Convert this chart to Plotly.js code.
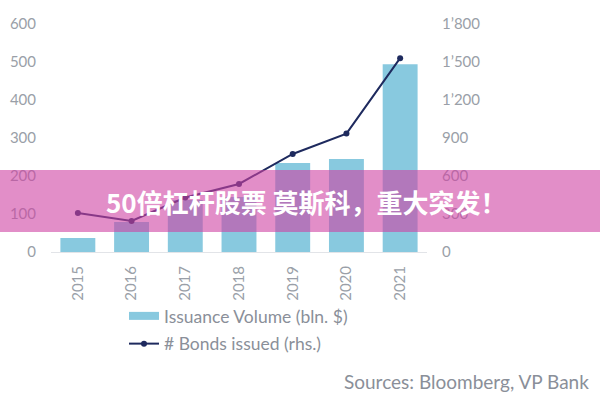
<!DOCTYPE html>
<html>
<head>
<meta charset="utf-8">
<script src="https://cdn.plot.ly/plotly-3.0.1.min.js"></script>
<style>html,body{margin:0;padding:0;background:#fff}#chart{width:600px;height:400px}</style>
</head>
<body>
<div id="chart"></div>
<script>
const years = ['2015','2016','2017','2018','2019','2020','2021'];
const issuanceVolume = [37, 79, 137, 145, 234, 245, 494];
const bondsIssued = [308, 245, 430, 537, 774, 935, 1530];
const leftTicks = [0, 100, 200, 300, 400, 500, 600];
const rightTickVals = [0, 300, 600, 900, 1200, 1500, 1800];
const rightTickText = ['0', '300', '600', '900', '1’200', '1’500', '1’800'];
const barName = 'Issuance Volume (bln. $)';
const lineName = '# Bonds issued (rhs.)';
const sourceText = 'Sources: Bloomberg, VP Bank';
const bannerText = '50倍杠杆股票 莫斯科，重大突发！';

const grey = '#9a9fa8';
const barColor = '#88c9df';
const lineColor = '#1e2a5e';
const L = 51, R = 427, T = 24, B = 252, W = 600, H = 400;
const pw = R - L, ph = B - T;
const px = v => (v - L) / pw;
const py = v => (B - v) / ph;

const traces = [
  {type:'bar', x: years, y: issuanceVolume, name: barName, marker:{color: barColor}, yaxis:'y', showlegend:false},
  // legend-only entry drawn as a wide swatch like the reference
  {type:'scatter', mode:'lines', x:[null], y:[null], name: barName, legendgroup:'a',
   line:{color: barColor, width: 8}, hoverinfo:'skip'},
  {type:'scatter', mode:'lines+markers', x: years, y: bondsIssued, name: lineName, yaxis:'y2', legendgroup:'b',
   line:{color: lineColor, width:2}, marker:{color: lineColor, size:6}}
];

const layout = {
  width: W, height: H,
  margin: {l: L, r: W - R, t: T, b: H - B},
  paper_bgcolor:'#ffffff', plot_bgcolor:'#ffffff',
  font: {family:'Lato, sans-serif', color: grey, size: 14},
  bargap: 0.35,
  showlegend: true,
  legend: {x: px(124), y: py(298), xanchor:'left', yanchor:'top', font:{size:17.5, color:'#8a8f99'},
           traceorder:'grouped', tracegroupgap: 2, bgcolor:'rgba(0,0,0,0)'},
  xaxis: {type:'category', tickangle: -90, showline: true, linecolor:'#e2e4e8', linewidth:1,
          showgrid:false, ticks:'', tickfont:{size:15, color: grey}, ticklabelstandoff: 7},
  yaxis: {range:[0,600], tickvals: leftTicks, showgrid:false, zeroline:false, showline:false,
          ticks:'', tickfont:{size:15, color: grey}, ticklabelstandoff: 14},
  yaxis2: {range:[0,1800], overlaying:'y', side:'right', tickvals: rightTickVals, ticktext: rightTickText,
           showgrid:false, zeroline:false, showline:false, ticks:'', tickfont:{size:15, color: grey}, ticklabelstandoff: 14},
  shapes: [
    {type:'rect', xref:'paper', yref:'paper', x0: px(0), x1: px(600), y0: py(232), y1: py(170),
     fillcolor:'rgba(207,67,163,0.6)', line:{width:0}, layer:'above'}
  ],
  annotations: [
    {xref:'paper', yref:'paper', x: px(591), y: py(381), xanchor:'right', yanchor:'middle', showarrow:false,
     text: sourceText, font:{size:19, color:'#8a8f99'}},
    {xref:'paper', yref:'paper', x: px(306), y: py(201), xanchor:'center', yanchor:'middle', showarrow:false,
     text: '<b>' + bannerText + '</b>', font:{family:'Noto Sans CJK SC, sans-serif', size:26, color:'#ffffff'}}
  ]
};

Plotly.newPlot('chart', traces, layout, {displayModeBar:false, staticPlot:true});
</script>
</body>
</html>
